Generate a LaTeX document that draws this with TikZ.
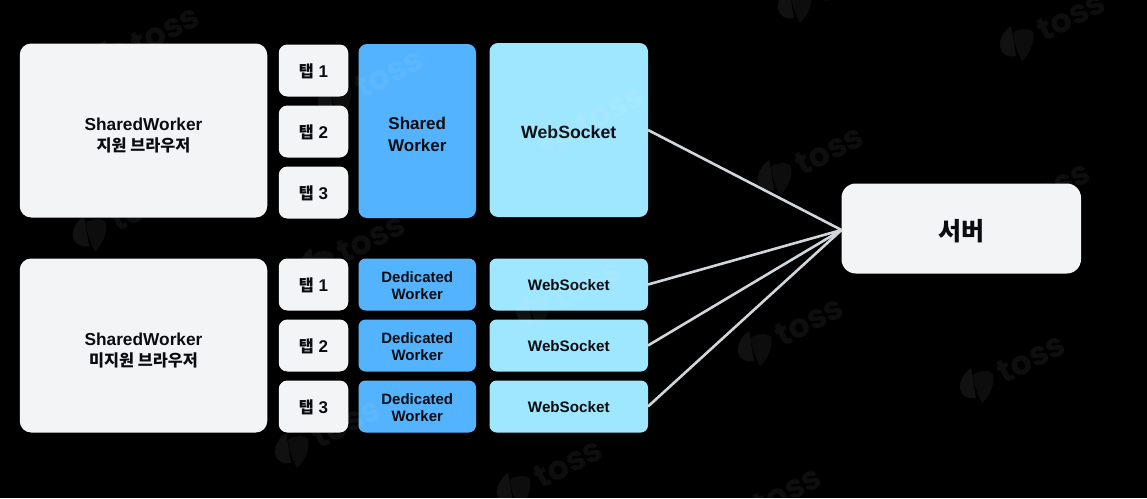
\documentclass[tikz,border=0pt]{standalone}
\usepackage{fontspec}
\setmainfont{Liberation Sans}
\newfontfamily\cjk{Noto Sans CJK KR}
\newfontfamily\markfont{Poppins}
\usetikzlibrary{positioning}
\definecolor{PanelGray}{HTML}{F2F4F6}
\definecolor{WorkerBlue}{HTML}{54B3FF}
\definecolor{SocketBlue}{HTML}{9FE6FF}
\definecolor{LinkGray}{HTML}{D1D6DB}
\definecolor{InkBlack}{HTML}{0A0C10}
\newcommand{\kr}[1]{{\cjk\fontsize{16.3}{22}\selectfont #1}}
\tikzset{
  basebox/.style={rectangle,outer sep=0pt,inner sep=0pt,align=center,text=InkBlack,font=\bfseries},
  dropped/.style={execute at begin node={\rule{0pt}{#1}}},
  hostbox/.style={basebox,fill=PanelGray,rounded corners=4mm,minimum width=247.5pt,minimum height=174pt,
    font=\bfseries\fontsize{17.3}{21.5}\selectfont,dropped=44pt},
  tabbox/.style={basebox,fill=PanelGray,rounded corners=3mm,minimum width=69.5pt,minimum height=52pt,
    font=\bfseries\fontsize{17}{22}\selectfont,dropped=15.5pt},
  sharedbox/.style={basebox,fill=WorkerBlue,rounded corners=3mm,minimum width=117.5pt,minimum height=174pt,
    font=\bfseries\fontsize{17}{22}\selectfont,dropped=40.5pt},
  dedibox/.style={basebox,fill=WorkerBlue,rounded corners=2.5mm,minimum width=117.5pt,minimum height=52pt,
    font=\bfseries\fontsize{15}{17.5}\selectfont,dropped=30.5pt},
  socketbox/.style={basebox,fill=SocketBlue,rounded corners=3mm,minimum width=158.5pt,minimum height=174pt,
    font=\bfseries\fontsize{17.7}{22}\selectfont,dropped=16.5pt},
  smallsocket/.style={basebox,fill=SocketBlue,rounded corners=2.5mm,minimum width=158.5pt,minimum height=52pt,
    font=\bfseries\fontsize{15.2}{18}\selectfont,dropped=13pt},
  serverbox/.style={basebox,fill=PanelGray,rounded corners=5mm,minimum width=239.5pt,minimum height=90pt,
    font=\cjk\bfseries\fontsize{25}{30}\selectfont,dropped=26pt},
  link/.style={draw=LinkGray,line width=2.6pt},
  wordmark/.style={rotate=27,text=white,text opacity=0.055,inner sep=0pt,font=\markfont\bfseries\fontsize{33}{33}\selectfont},
}
\begin{document}
\begin{tikzpicture}[x=1pt,y=-1pt]
  \useasboundingbox (0,0) rectangle (1147,498);
  \fill[black] (0,0) rectangle (1147,498);

  % upper group
  \node[hostbox] (host1) at (143.5,130.5) {SharedWorker\\\kr{지원 브라우저}};
  \node[tabbox] (tab1) at (313.5,70.5) {\kr{탭} 1};
  \node[tabbox,below=9pt of tab1] (tab2) {\kr{탭} 2};
  \node[tabbox,below=9pt of tab2] (tab3) {\kr{탭} 3};
  \node[sharedbox] (shared) at (417.25,131) {Shared\\Worker};
  \node[socketbox] (socket) at (568.75,130) {WebSocket};

  % lower group
  \node[hostbox] (host2) at (143.5,345.5) {SharedWorker\\\kr{미지원 브라우저}};
  \node[tabbox] (tab4) at (313.5,284.5) {\kr{탭} 1};
  \node[tabbox,below=9pt of tab4] (tab5) {\kr{탭} 2};
  \node[tabbox,below=9pt of tab5] (tab6) {\kr{탭} 3};
  \node[dedibox] (dedi1) at (417.25,284.5) {Dedicated\\Worker};
  \node[dedibox,below=9pt of dedi1] (dedi2) {Dedicated\\Worker};
  \node[dedibox,below=9pt of dedi2] (dedi3) {Dedicated\\Worker};
  \node[smallsocket] (socket1) at (568.75,284.5) {WebSocket};
  \node[smallsocket,below=9pt of socket1] (socket2) {WebSocket};
  \node[smallsocket,below=9pt of socket2] (socket3) {WebSocket};

  \node[serverbox] (server) at (961.25,228.5) {서버};
  \coordinate (hub) at (841.5,230);

  \draw[link] (socket.east) -- (hub);
  \draw[link] (socket1.east) -- (hub);
  \draw[link] (socket2.east) -- (hub);
  \draw[link] (socket3.east) -- (hub);

  % watermark
  \begin{scope}
    \clip (0,0) rectangle (1147,498);
    \foreach \mx/\my/\mn in {775/177/a,755/348/b,977/385/c,514/490/d,292/450/e,733/518/f,1017/43/g,795/5/h,
                             90/233/i,317/265/j,335/100/k,111/57/l,533/310/m,1002/213/n,556/137/o} {
      \begin{scope}[shift={(\mx,\my)}]
        \fill[white,opacity=0.065] (-6,-17) .. controls (-13,-12) and (-18,-4) .. (-17,4)
          .. controls (-16,11) and (-8,15) .. (-1,13) .. controls (-3,2) and (-4,-8) .. (-6,-17) -- cycle;
        \fill[white,opacity=0.05] (-4,-10) .. controls (2,-15) and (12,-15) .. (16,-11)
          .. controls (18,0) and (12,12) .. (5,18) .. controls (0,8) and (-3,0) .. (-4,-10) -- cycle;
      \end{scope}
      \node[wordmark] (mark\mn) at (\mx+54,\my-27) {toss};
    }
  \end{scope}
\end{tikzpicture}
\end{document}
